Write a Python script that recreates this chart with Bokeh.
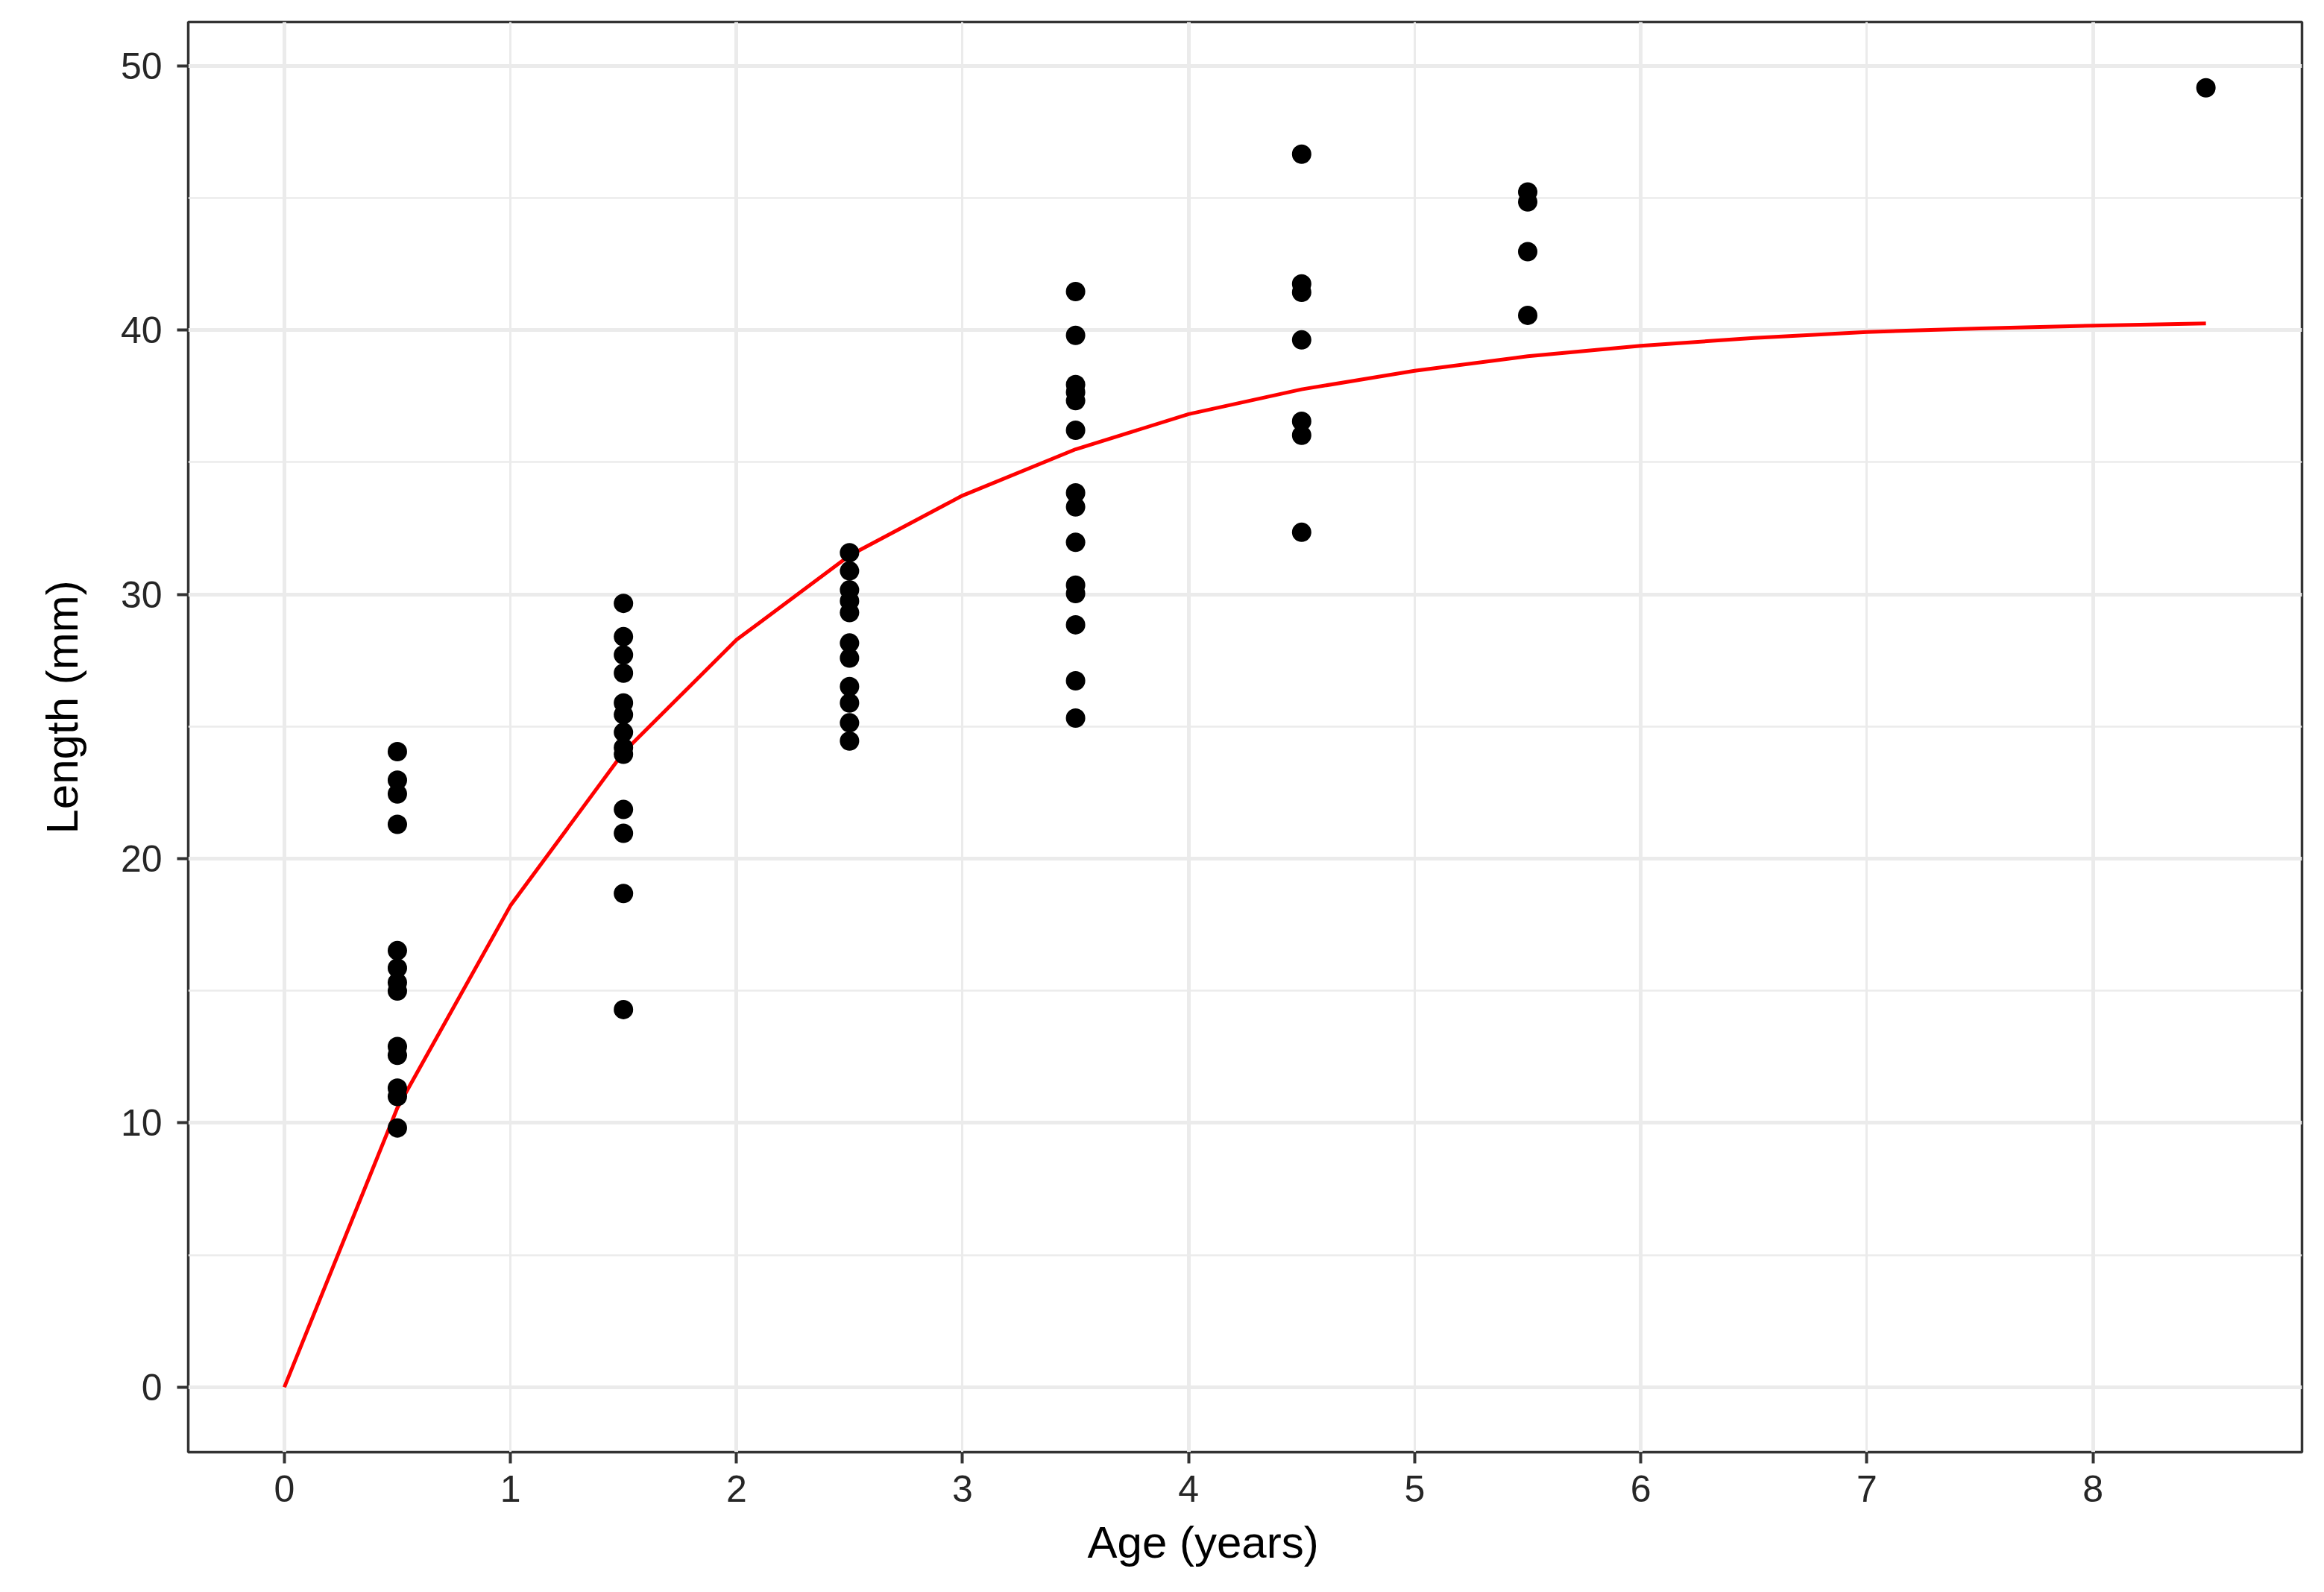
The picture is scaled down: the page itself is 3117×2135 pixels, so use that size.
from bokeh.plotting import figure
from bokeh.models import FixedTicker, Grid, Range1d, ColumnDataSource, Title
from bokeh.embed import file_html
from bokeh.resources import INLINE

# ---- data ----
len_age_05 = [24.05, 22.97, 22.45, 21.30, 16.52, 15.86, 15.31, 14.99, 12.89, 12.56, 11.32, 11.00, 9.81]
len_age_15 = [29.66, 28.40, 27.71, 27.02, 25.89, 25.45, 24.78, 24.20, 23.95, 21.86, 20.96, 18.68, 14.29]
len_age_25 = [31.58, 30.89, 30.17, 29.75, 29.31, 28.16, 27.59, 26.51, 25.89, 25.14, 24.45]
len_age_35 = [41.46, 39.80, 37.94, 37.65, 37.33, 36.21, 33.84, 33.31, 31.97, 30.35, 30.03, 28.85, 26.73, 25.32]
len_age_45 = [46.66, 41.75, 41.43, 39.63, 36.55, 36.02, 32.35]
len_age_55 = [45.23, 44.85, 42.97, 40.56]
len_age_85 = [49.17]
group_ages = [0.5, 1.5, 2.5, 3.5, 4.5, 5.5, 8.5]

curve_age = [0, 0.5, 1, 1.5, 2, 2.5, 3, 3.5, 4, 4.5, 5, 5.5, 6, 6.5, 7, 7.5, 8, 8.5]
curve_len = [0, 10.57, 18.22, 24.02, 28.28, 31.47, 33.74, 35.49, 36.82, 37.76, 38.46,
             39.01, 39.41, 39.70, 39.93, 40.06, 40.17, 40.25]

x_ticks = [0, 1, 2, 3, 4, 5, 6, 7, 8]
y_ticks = [0, 10, 20, 30, 40, 50]
x_grid_major = [0, 2, 4, 6, 8]
x_grid_minor = [1, 3, 5, 7]
y_grid_minor = [5, 15, 25, 35, 45]
x_title = "Age (years)"
y_title = "Length (mm)"

groups = [len_age_05, len_age_15, len_age_25, len_age_35, len_age_45, len_age_55, len_age_85]
pt_age, pt_len = [], []
for a, vals in zip(group_ages, groups):
    pt_age += [a] * len(vals)
    pt_len += vals

FONT = "Liberation Sans"
W, H = 3100, 2120
p = figure(width=W, height=H, output_backend="svg", toolbar_location=None,
           x_range=Range1d(-0.425, 8.925), y_range=Range1d(-2.46, 51.66),
           min_border_left=252, min_border_right=W - 3087, min_border_top=29,
           min_border_bottom=H - 1947)
p.background_fill_color = "white"
p.border_fill_color = "white"
p.outline_line_color = "#333333"
p.outline_line_width = 3.5

# grids
GRID = "#EBEBEB"
p.xgrid.ticker = FixedTicker(ticks=x_grid_major)
p.ygrid.ticker = FixedTicker(ticks=y_ticks)
for g in (p.xgrid, p.ygrid):
    g.grid_line_color = GRID
    g.grid_line_width = 5
p.add_layout(Grid(dimension=0, ticker=FixedTicker(ticks=x_grid_minor),
                  grid_line_color=GRID, grid_line_width=3))
p.add_layout(Grid(dimension=1, ticker=FixedTicker(ticks=y_grid_minor),
                  grid_line_color=GRID, grid_line_width=2.5))

# axes
p.xaxis.ticker = FixedTicker(ticks=x_ticks)
p.yaxis.ticker = FixedTicker(ticks=y_ticks)
for ax in (p.xaxis, p.yaxis):
    ax.axis_line_color = None
    ax.major_tick_line_color = "#333333"
    ax.major_tick_line_width = 4
    ax.major_tick_out = 15
    ax.major_tick_in = 0
    ax.minor_tick_line_color = None
    ax.major_label_text_font = FONT
    ax.major_label_text_font_size = "50px"
    ax.major_label_text_color = "#262626"
p.xaxis.major_label_standoff = 16
p.yaxis.major_label_standoff = 20

# axis titles, placed off-centre as in the reference
xt = Title(text=x_title, align="left", offset=1206, standoff=32,
           text_font=FONT, text_font_size="60px", text_font_style="normal",
           text_color="black")
yt = Title(text=y_title, align="left", offset=829, standoff=84,
           text_font=FONT, text_font_size="60px", text_font_style="normal",
           text_color="black")
p.add_layout(xt, "below")
p.add_layout(yt, "left")

src = ColumnDataSource(dict(age=pt_age, length=pt_len))
p.line(curve_age, curve_len, line_color="#FF0000", line_width=5)
p.scatter("age", "length", source=src, size=26, fill_color="black", line_color=None)

open("out.html", "w").write(file_html(p, INLINE))
